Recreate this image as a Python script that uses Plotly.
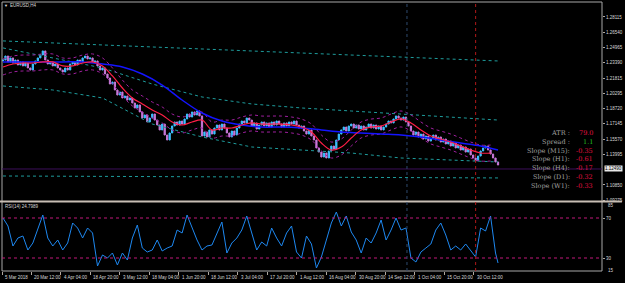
import plotly.graph_objects as go

# ---------------- data ----------------
x_labels = ["5 Mar 2018", "20 Mar 12:00", "4 Apr 04:00", "18 Apr 20:00", "3 May 12:00",
            "18 May 04:00", "1 Jun 20:00", "18 Jun 12:00", "3 Jul 04:00", "17 Jul 20:00",
            "1 Aug 12:00", "16 Aug 04:00", "30 Aug 20:00", "14 Sep 12:00", "1 Oct 04:00",
            "15 Oct 20:00", "30 Oct 12:00"]

first_open = 1.2359
closes = [
    1.2369, 1.2410, 1.2349, 1.2390, 1.2338, 1.2369, 1.2318, 1.2349, 1.2308, 1.2338,
    1.2287, 1.2266, 1.2328, 1.2359, 1.2390, 1.2421, 1.2462, 1.2369, 1.2328, 1.2349,
    1.2308, 1.2328, 1.2287, 1.2266, 1.2246, 1.2287, 1.2266, 1.2328, 1.2349, 1.2318,
    1.2369, 1.2349, 1.2390, 1.2410, 1.2380, 1.2390, 1.2349, 1.2359, 1.2308, 1.2266,
    1.2287, 1.2225, 1.2184, 1.2122, 1.2143, 1.2061, 1.2009, 1.2040, 1.1979, 1.1999,
    1.1958, 1.1979, 1.1927, 1.1876, 1.1907, 1.1835, 1.1773, 1.1804, 1.1732, 1.1773,
    1.1814, 1.1752, 1.1701, 1.1650, 1.1711, 1.1598, 1.1547, 1.1619, 1.1691, 1.1732,
    1.1701, 1.1742, 1.1711, 1.1763, 1.1814, 1.1783, 1.1835, 1.1804, 1.1845, 1.1794,
    1.1588, 1.1629, 1.1578, 1.1650, 1.1608, 1.1670, 1.1701, 1.1650, 1.1711, 1.1670,
    1.1619, 1.1578, 1.1639, 1.1598, 1.1670, 1.1711, 1.1742, 1.1722, 1.1773, 1.1752,
    1.1691, 1.1722, 1.1660, 1.1701, 1.1732, 1.1691, 1.1722, 1.1680, 1.1732, 1.1701,
    1.1742, 1.1711, 1.1680, 1.1722, 1.1691, 1.1732, 1.1711, 1.1742, 1.1701, 1.1670,
    1.1691, 1.1639, 1.1608, 1.1650, 1.1588, 1.1547, 1.1465, 1.1423, 1.1372, 1.1413,
    1.1362, 1.1434, 1.1485, 1.1454, 1.1547, 1.1608, 1.1650, 1.1680, 1.1639, 1.1691,
    1.1711, 1.1670, 1.1701, 1.1660, 1.1691, 1.1650, 1.1680, 1.1711, 1.1670, 1.1701,
    1.1660, 1.1691, 1.1650, 1.1680, 1.1711, 1.1742, 1.1722, 1.1763, 1.1794, 1.1773,
    1.1752, 1.1783, 1.1732, 1.1691, 1.1639, 1.1598, 1.1629, 1.1578, 1.1608, 1.1557,
    1.1588, 1.1536, 1.1567, 1.1598, 1.1547, 1.1578, 1.1526, 1.1557, 1.1506, 1.1536,
    1.1485, 1.1516, 1.1465, 1.1495, 1.1444, 1.1475, 1.1423, 1.1454, 1.1393, 1.1362,
    1.1331, 1.1382, 1.1434, 1.1465, 1.1485, 1.1444, 1.1403, 1.1362, 1.1321, 1.1290,
]

# fast (red) moving average, sampled every 4 bars
red_ma_idx = list(range(0, 200, 4))
red_ma = [
    1.2297, 1.2328, 1.2338, 1.2338, 1.2349, 1.2349, 1.2308, 1.2308, 1.2338, 1.2349,
    1.2308, 1.2205, 1.2081, 1.1979, 1.1917, 1.1855, 1.1804, 1.1732, 1.1701, 1.1732,
    1.1752, 1.1650, 1.1670, 1.1670, 1.1701, 1.1722, 1.1711, 1.1711, 1.1711, 1.1701,
    1.1680, 1.1629, 1.1516, 1.1444, 1.1475, 1.1567, 1.1650, 1.1680, 1.1691, 1.1732,
    1.1763, 1.1722, 1.1650, 1.1588, 1.1557, 1.1526, 1.1485, 1.1444, 1.1413, 1.1413,
]
envelope_dev = 0.0082

# slow (blue) moving average
blue_ma_idx = [0, 8, 16, 24, 32, 40, 48, 56, 64, 72, 80, 88, 96, 104, 112, 120, 128,
               136, 144, 152, 160, 168, 176, 184, 192, 199]
blue_ma = [1.2349, 1.2349, 1.2349, 1.2349, 1.2349, 1.2328, 1.2297, 1.2225, 1.2112,
           1.1958, 1.1824, 1.1742, 1.1701, 1.1680, 1.1680, 1.1670, 1.1650, 1.1629,
           1.1619, 1.1608, 1.1598, 1.1578, 1.1547, 1.1516, 1.1485, 1.1444]

# regression channel lines
chan_idx = [0, 20, 40, 60, 80, 100, 120, 140, 160, 180, 199]
chan_top = [1.2565, 1.2545, 1.2524, 1.2504, 1.2483, 1.2463, 1.2442, 1.2421, 1.2401, 1.2380, 1.2359]
chan_up = [1.2493, 1.2390, 1.2287, 1.2122, 1.1989, 1.1917, 1.1876, 1.1845, 1.1814, 1.1783, 1.1752]
chan_low = [1.2102, 1.2061, 1.1979, 1.1711, 1.1578, 1.1475, 1.1444, 1.1413, 1.1362, 1.1341, 1.1321]
chan_bot = [1.1177, 1.1175, 1.1173, 1.1171, 1.1169, 1.1167, 1.1165, 1.1163, 1.1161, 1.1159, 1.1157]

# RSI(14), sampled every 2 bars
rsi_idx = list(range(0, 200, 2)) + [199]
rsi = [
    70, 62, 42, 50, 52, 38, 45, 58, 73, 50, 42, 48, 38, 45, 65, 60, 50, 60, 55, 22,
    33, 30, 35, 23, 35, 28, 50, 63, 40, 36, 38, 48, 37, 40, 42, 58, 55, 73, 60, 48,
    38, 42, 43, 55, 66, 35, 45, 50, 58, 72, 55, 38, 46, 42, 60, 50, 42, 55, 62, 36,
    30, 52, 44, 20, 31, 48, 65, 76, 62, 72, 56, 48, 35, 50, 45, 55, 68, 48, 58, 70,
    58, 60, 30, 26, 36, 40, 44, 58, 65, 53, 38, 42, 38, 44, 38, 31, 60, 57, 72, 35,
    25,
]
rsi_levels = [70, 30]

price_ticks = [1.28115, 1.26540, 1.24965, 1.23390, 1.21815, 1.20295, 1.18720,
               1.17145, 1.15570, 1.13995, 1.10850, 1.09275]
current_price = 1.1249
vline_blue_idx = 162.4
vline_red_idx = 190

info_labels = ["ATR :", "Spread :", "Slope (M15):", "Slope (H1):", "Slope (H4):",
               "Slope (D1):", "Slope (W1):"]
info_values = ["79.0", "1.1", "-0.35", "-0.61", "-0.17", "-0.32", "-0.33"]

# ---------------- figure ----------------
W, H = 625, 283
L, R, T, B = 2, 20, 2, 12
PW, PH = W - L - R, H - T - B


def px(xp):
    return (xp - L) / PW


def py(yp):
    return (H - B - yp) / PH


opens = [first_open] + closes[:-1]
highs = [max(o, c) for o, c in zip(opens, closes)]
lows = [min(o, c) for o, c in zip(opens, closes)]
idx = list(range(len(closes)))

fig = go.Figure()

dot_teal = dict(color="#1E9C9C", width=1, dash="dot")
for series in (chan_top, chan_up, chan_low, chan_bot):
    fig.add_trace(go.Scatter(x=chan_idx, y=series, mode="lines", line=dot_teal,
                             xaxis="x", yaxis="y", hoverinfo="skip"))

env_line = dict(color="#A020A0", width=1, dash="dot")
fig.add_trace(go.Scatter(x=red_ma_idx, y=[v + envelope_dev for v in red_ma], mode="lines",
                         line=dict(shape="spline", **env_line), yaxis="y"))
fig.add_trace(go.Scatter(x=red_ma_idx, y=[v - envelope_dev for v in red_ma], mode="lines",
                         line=dict(shape="spline", **env_line), yaxis="y"))

fig.add_trace(go.Candlestick(
    x=idx, open=opens, high=highs, low=lows, close=closes, xaxis="x", yaxis="y",
    increasing=dict(line=dict(color="#3CC0FF", width=1), fillcolor="#3CC0FF"),
    decreasing=dict(line=dict(color="#C878D8", width=1), fillcolor="#C878D8"),
    whiskerwidth=0))

fig.add_trace(go.Scatter(x=blue_ma_idx, y=blue_ma, mode="lines",
                         line=dict(color="#1414FF", width=1.5, shape="spline"), yaxis="y"))
fig.add_trace(go.Scatter(x=red_ma_idx, y=red_ma, mode="lines",
                         line=dict(color="#FF1E46", width=1.2, shape="spline"), yaxis="y"))

fig.add_trace(go.Scatter(x=rsi_idx, y=rsi, mode="lines",
                         line=dict(color="#1E88F0", width=1), xaxis="x", yaxis="y2"))

tick_font = dict(family="Liberation Sans, Arial", size=4.5, color="#D8D8D8")
x_min, x_max = -0.4, 240.8
main_lo, main_hi = 1.0920, 1.2965

fig.update_layout(
    width=W, height=H, margin=dict(l=L, r=R, t=T, b=B),
    paper_bgcolor="#000000", plot_bgcolor="#000000", showlegend=False,
    xaxis=dict(range=[x_min, x_max], showgrid=False, zeroline=False, anchor="y2",
               rangeslider=dict(visible=False), showticklabels=False,
               tickvals=[-0.4 + k * 11.85 for k in range(len(x_labels))],
               ticks="outside", ticklen=3, tickcolor="#B0A8A0", showline=False),
    yaxis=dict(domain=[py(201), 1], range=[main_lo, main_hi], side="right",
               showgrid=False, zeroline=False, tickvals=price_ticks,
               ticktext=[f"{v:.5f}" for v in price_ticks], ticks="outside",
               ticklen=2, tickcolor="#B0A8A0", tickfont=tick_font),
    yaxis2=dict(domain=[0, py(202)], range=[17, 86], side="right", showgrid=False,
                zeroline=False, tickvals=rsi_levels, ticktext=[str(v) for v in rsi_levels],
                ticks="outside", ticklen=2, tickcolor="#B0A8A0", tickfont=tick_font),
)

shapes = []
# frame
shapes.append(dict(type="rect", xref="paper", yref="paper", x0=0, x1=1, y0=0, y1=1,
                   line=dict(color="#A8A8A8", width=1)))
# panel separator
shapes.append(dict(type="line", xref="paper", yref="paper", x0=-0.01, x1=px(625),
                   y0=py(201.5), y1=py(201.5), line=dict(color="#C8BEB4", width=2)))
# RSI levels
for lv in rsi_levels:
    shapes.append(dict(type="line", xref="paper", yref="y2", x0=0, x1=1, y0=lv, y1=lv,
                       line=dict(color="#C0187A", width=1, dash="dot")))
# current price line
shapes.append(dict(type="line", xref="paper", yref="y", x0=0, x1=1, y0=current_price,
                   y1=current_price, line=dict(color="#3C0F5A", width=1)))
# vertical separators
shapes.append(dict(type="line", xref="x", yref="paper", x0=vline_blue_idx, x1=vline_blue_idx,
                   y0=0, y1=1, line=dict(color="#2E4A6E", width=1, dash="dot")))
shapes.append(dict(type="line", xref="x", yref="paper", x0=vline_red_idx, x1=vline_red_idx,
                   y0=0, y1=1, line=dict(color="#B01818", width=1, dash="dot")))
fig.update_layout(shapes=shapes)

ann = []
small = dict(family="Liberation Sans, Arial", size=4.5, color="#D8D8D8")
for k, lab in enumerate(x_labels):
    ann.append(dict(x=-0.4 + k * 11.85, xref="x", y=py(277), yref="paper", text=lab,
                    showarrow=False, xanchor="left", yanchor="middle", xshift=1, font=small))
ann.append(dict(x=px(8), y=py(5), xref="paper", yref="paper", text="EURUSD,H4",
                showarrow=False, xanchor="left", yanchor="middle", font=small))
ann.append(dict(x=px(2.5), y=py(5), xref="paper", yref="paper", text="▼",
                showarrow=False, xanchor="left", yanchor="middle",
                font=dict(size=4, color="#E0E0E0")))
ann.append(dict(x=px(3), y=py(206), xref="paper", yref="paper", text="RSI(14) 24.7989",
                showarrow=False, xanchor="left", yanchor="middle", font=small))
ann.append(dict(x=px(609), y=py(205), xref="paper", yref="paper", text="85",
                showarrow=False, xanchor="left", yanchor="middle", font=small))
ann.append(dict(x=px(609), y=py(270), xref="paper", yref="paper", text="15",
                showarrow=False, xanchor="left", yanchor="middle", font=small))
ann.append(dict(x=px(607), y=current_price, xref="paper", yref="y", text="1.12490",
                showarrow=False, xanchor="left", yanchor="middle", bgcolor="#E8E8E8",
                borderpad=0, font=dict(family="Liberation Sans, Arial", size=4.5, color="#000000")))

info_font = dict(family="DejaVu Serif, Liberation Serif", size=6.5, color="#A0A0A0")
val_colors = ["#E01040", "#20C020", "#E01040", "#E01040", "#E01040", "#E01040", "#E01040"]
row_y = [133, 142, 151, 159.5, 168, 177, 185.5]
for lab, val, col, yy in zip(info_labels, info_values, val_colors, row_y):
    ann.append(dict(x=px(575), y=py(yy), xref="paper", yref="paper", text=lab,
                    showarrow=False, xanchor="right", yanchor="middle", font=info_font))
    ann.append(dict(x=px(598), y=py(yy), xref="paper", yref="paper", text=val,
                    showarrow=False, xanchor="right", yanchor="middle",
                    font=dict(family="DejaVu Serif, Liberation Serif", size=6.5, color=col)))
fig.update_layout(annotations=ann)

fig.write_html("out.html")
